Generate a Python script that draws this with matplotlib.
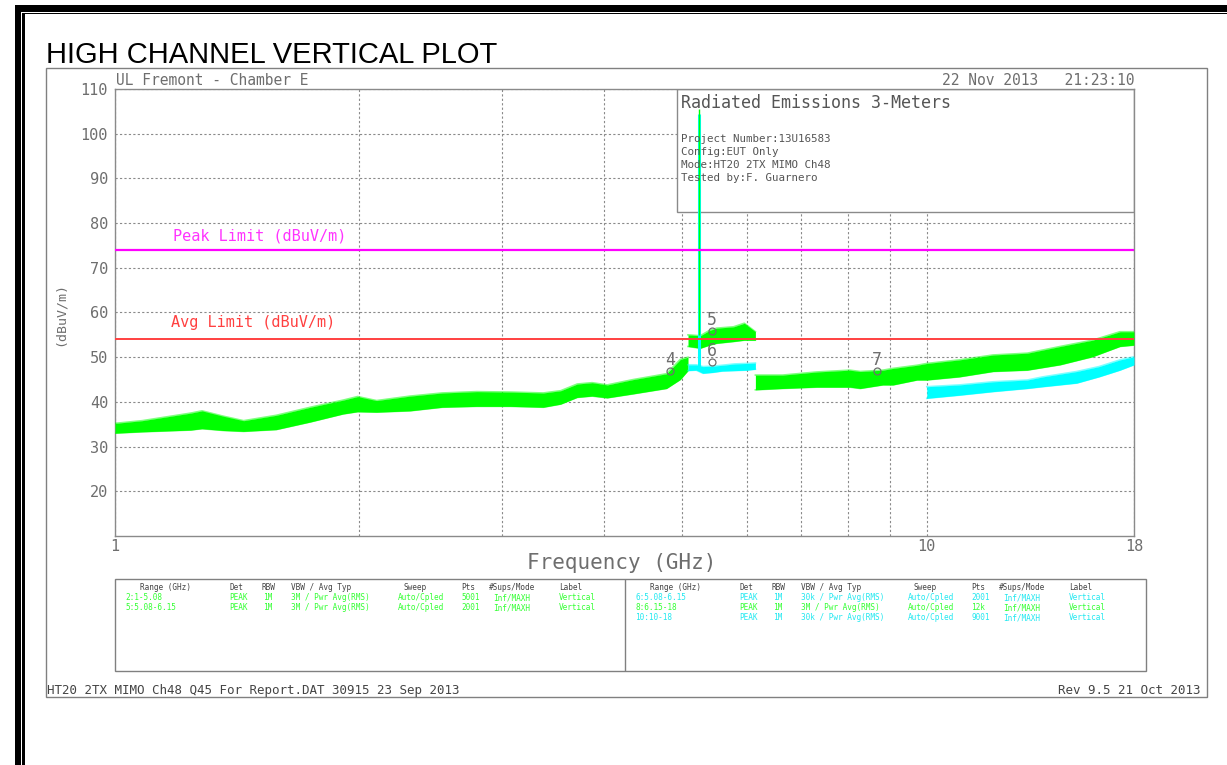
import matplotlib
matplotlib.use('Agg')
import matplotlib.pyplot as plt
from matplotlib.patches import Rectangle
from matplotlib.ticker import FixedLocator, NullFormatter

W, H = 1227, 765
MONO = 'DejaVu Sans Mono'
GRAY = '#6e6e6e'
GREEN = '#00ff00'
CYAN = '#00ffff'

# ---- traces: frequency (GHz), band low / high (dBuV/m) ----
# trace 2 : 1 - 5.08 GHz, green
g2_f = [1.00, 1.08, 1.24, 1.28, 1.36, 1.44, 1.58, 1.74, 1.91, 1.99, 2.10, 2.31,
        2.53, 2.79, 3.07, 3.37, 3.54, 3.71, 3.87, 4.04, 4.35, 4.78, 4.97, 5.08]
g2_lo = [33.0, 33.3, 33.7, 34.0, 33.6, 33.4, 33.8, 35.5, 37.3, 37.8, 37.7, 38.0,
         38.8, 39.0, 39.0, 38.8, 39.5, 41.0, 41.3, 40.9, 41.8, 43.0, 45.0, 47.0]
g2_hi = [35.2, 35.8, 37.5, 38.0, 36.8, 35.8, 37.0, 38.8, 40.4, 41.2, 40.3, 41.3,
         42.0, 42.3, 42.2, 42.0, 42.5, 44.0, 44.3, 43.8, 45.0, 46.3, 49.5, 50.0]

# trace 5 : 5.08 - 6.15 GHz, green
g5_f = [5.08, 5.26, 5.40, 5.51, 5.78, 5.96, 6.15]
g5_lo = [52.4, 52.0, 52.7, 53.1, 53.5, 53.8, 53.8]
g5_hi = [55.0, 54.8, 56.0, 56.5, 56.8, 57.6, 55.7]

# trace 6 : 5.08 - 6.15 GHz, cyan (average)
c6_f = [5.08, 5.20, 5.30, 5.45, 5.60, 5.80, 6.00, 6.15]
c6_lo = [47.0, 47.1, 46.4, 46.6, 46.9, 47.0, 47.1, 47.3]
c6_hi = [48.3, 48.3, 47.9, 48.0, 48.2, 48.5, 48.6, 48.7]

# trace 8 : 6.15 - 18 GHz, green
g8_f = [6.15, 6.64, 7.32, 8.04, 8.28, 8.83, 9.09, 9.73, 10.0, 10.97, 12.07,
        13.3, 14.6, 16.0, 17.3, 18.0]
g8_lo = [42.7, 43.0, 43.3, 43.3, 43.0, 43.8, 43.8, 44.9, 44.9, 45.6, 46.8,
         47.1, 48.3, 50.1, 52.4, 52.7]
g8_hi = [46.0, 46.0, 46.7, 47.1, 46.8, 47.1, 47.5, 48.2, 48.6, 49.4, 50.5,
         50.9, 52.4, 53.8, 55.7, 55.7]

# trace 10 : 10 - 18 GHz, cyan (average)
c10_f = [10.0, 10.97, 12.07, 13.3, 13.9, 15.3, 16.3, 17.3, 18.0]
c10_lo = [40.8, 41.5, 42.3, 43.0, 43.4, 44.2, 45.6, 47.1, 48.3]
c10_hi = [43.4, 43.8, 44.5, 44.9, 45.6, 46.8, 47.9, 49.4, 50.1]

# carrier spike
spike_f = [5.235, 5.24]
spike_base = [47.5, 55.0]
spike_top = [104.5, 105.5]
spike_col = [CYAN, GREEN]

# limits
peak_limit = 74
avg_limit = 54

# markers
mk_f = [4.83, 5.44, 5.44, 8.68]
mk_db = [46.9, 55.9, 48.9, 46.9]
mk_lbl = ['4', '5', '6', '7']

# setup table
tbl_head = ['Range (GHz)', 'Det', 'RBW', 'VBW / Avg Typ', 'Sweep', 'Pts',
            '#Sups/Mode', 'Label']
tbl_left = [
    ['2:1-5.08', 'PEAK', '1M', '3M / Pwr Avg(RMS)', 'Auto/Cpled', '5001', 'Inf/MAXH', 'Vertical'],
    ['5:5.08-6.15', 'PEAK', '1M', '3M / Pwr Avg(RMS)', 'Auto/Cpled', '2001', 'Inf/MAXH', 'Vertical'],
]
tbl_left_col = ['#33ff33', '#33ff33']
tbl_right = [
    ['6:5.08-6.15', 'PEAK', '1M', '30k / Pwr Avg(RMS)', 'Auto/Cpled', '2001', 'Inf/MAXH', 'Vertical'],
    ['8:6.15-18', 'PEAK', '1M', '3M / Pwr Avg(RMS)', 'Auto/Cpled', '12k', 'Inf/MAXH', 'Vertical'],
    ['10:10-18', 'PEAK', '1M', '30k / Pwr Avg(RMS)', 'Auto/Cpled', '9001', 'Inf/MAXH', 'Vertical'],
]
tbl_right_col = ['#22e8f0', '#33ff33', '#22e8f0']

info_lines = ['Project Number:13U16583', 'Config:EUT Only',
              'Mode:HT20 2TX MIMO Ch48', 'Tested by:F. Guarnero']


def fx(x):
    return x / W


def fy(y):
    return 1 - y / H


fig = plt.figure(figsize=(W / 100, H / 100), dpi=100)

# black page borders
for x0, y0, x1, y1 in [(15, 5, 21, 765), (22, 12.5, 24.5, 765),
                       (15, 5, 1227, 11.7), (22, 12.5, 1227, 14)]:
    fig.add_artist(Rectangle((fx(x0), fy(y1)), fx(x1 - x0), (y1 - y0) / H,
                             transform=fig.transFigure, fc='black', ec='none'))

# gray frame
fig.add_artist(Rectangle((fx(46), fy(697)), fx(1207 - 46), (697 - 68) / H,
                         transform=fig.transFigure, fc='none', ec='#808080', lw=1))

fig.text(fx(46), fy(63), 'HIGH CHANNEL VERTICAL PLOT', fontsize=21,
         family='Liberation Sans', va='baseline', ha='left')

ax = fig.add_axes([fx(115), fy(536), fx(1019), 447 / H])
ax.set_xscale('log')
ax.set_xlim(1, 18)
ax.set_ylim(10, 110)
ax.set_xticks([1, 10, 18])
ax.set_xticklabels(['1', '10', '18'])
ax.xaxis.set_minor_locator(FixedLocator([2, 3, 4, 5, 6, 7, 8, 9]))
ax.xaxis.set_minor_formatter(NullFormatter())
ax.set_yticks(range(20, 111, 10))
ax.tick_params(which='both', length=0, colors=GRAY, labelsize=11)
ax.tick_params(axis='y', pad=5)
ax.tick_params(axis='x', pad=2)
for lab in ax.get_xticklabels() + ax.get_yticklabels():
    lab.set_family(MONO)
ax.set_axisbelow(True)
ax.grid(True, which='both', color='#8a8a8a', lw=0.8, ls=(0, (2, 2)))
for sp in ax.spines.values():
    sp.set_color('#8a8a8a')
    sp.set_linewidth(1)

# info box
ax.add_patch(Rectangle(((677 - 115) / 1019, (536 - 212) / 447),
                       (1134 - 677) / 1019, (212 - 89) / 447,
                       transform=ax.transAxes, fc='white', ec='#8a8a8a',
                       lw=1, zorder=1.5))
fig.text(fx(681), fy(108), 'Radiated Emissions 3-Meters', family=MONO,
         fontsize=12, color='#555555', va='baseline')
for i, line in enumerate(info_lines):
    fig.text(fx(681), fy(142 + 13 * i), line, family=MONO, fontsize=7.8,
             color='#555555', va='baseline')

# limit lines
ax.axhline(peak_limit, color='#ff00ff', lw=1.6, zorder=4)
ax.axhline(avg_limit, color='#ff4040', lw=1.4, zorder=4)
ax.text(1.178, 76.1, 'Peak Limit (dBuV/m)', family=MONO, fontsize=11,
        color='#ff33ff', va='baseline')
ax.text(1.171, 56.8, 'Avg Limit (dBuV/m)', family=MONO, fontsize=11,
        color='#ff4040', va='baseline')

# traces
for f, lo, hi, col in [(g2_f, g2_lo, g2_hi, GREEN), (g5_f, g5_lo, g5_hi, GREEN),
                       (c6_f, c6_lo, c6_hi, CYAN), (g8_f, g8_lo, g8_hi, GREEN),
                       (c10_f, c10_lo, c10_hi, CYAN)]:
    ax.fill_between(f, lo, hi, color=col, lw=0, zorder=3)
    ax.plot(f, lo, color=col, lw=1.2, alpha=0.5, zorder=3)
    ax.plot(f, hi, color=col, lw=1.2, alpha=0.5, zorder=3)

ax.vlines(spike_f, spike_base, spike_top, colors=spike_col, lw=[2.2, 1.0], zorder=3.5)

# markers: small open circle at the point, number above it
ax.plot(mk_f, mk_db, ls='none', marker='o', ms=5, mfc='none', mec=GRAY,
        mew=0.9, zorder=5)
for f, db, lbl in zip(mk_f, mk_db, mk_lbl):
    ax.annotate(lbl, (f, db), xytext=(0, 4.5), textcoords='offset points',
                ha='center', va='baseline', family=MONO, fontsize=12,
                color=GRAY, zorder=5)

# headers around the plot
fig.text(fx(116), fy(85), 'UL Fremont - Chamber E', family=MONO, fontsize=10.5,
         color=GRAY, va='baseline')
fig.text(fx(1134), fy(85), '22 Nov 2013   21:23:10', family=MONO, fontsize=10.5,
         color=GRAY, va='baseline', ha='right')
fig.text(fx(60), fy(314), '(dBuV/m)', family=MONO, fontsize=9.5, color=GRAY,
         rotation=90, ha='center', va='center')
fig.text(fx(622), fy(563), 'Frequency (GHz)', family=MONO, fontsize=15,
         color=GRAY, ha='center', va='center')

# setup table
fig.add_artist(Rectangle((fx(115), fy(671)), fx(1146 - 115), (671 - 579) / H,
                         transform=fig.transFigure, fc='none', ec='#808080', lw=1))
fig.add_artist(Rectangle((fx(625), fy(671)), 0, (671 - 579) / H,
                         transform=fig.transFigure, fc='none', ec='#808080', lw=1))
head_off = [25, 114, 147, 176, 289, 346, 374, 444]
data_off = [10, 114, 148, 176, 283, 346, 378, 444]
for x0, rows, cols in [(115, tbl_left, tbl_left_col), (625, tbl_right, tbl_right_col)]:
    for h, off in zip(tbl_head, head_off):
        fig.text(fx(x0 + off), fy(587), h, family=MONO, fontsize=5.6,
                 color='#444444', va='center')
    for r, (row, col) in enumerate(zip(rows, cols)):
        for cell, off in zip(row, data_off):
            fig.text(fx(x0 + off), fy(598 + 10 * r), cell, family=MONO,
                     fontsize=5.6, color=col, va='center')

# footer
fig.text(fx(47), fy(694), 'HT20 2TX MIMO Ch48 Q45 For Report.DAT 30915 23 Sep 2013',
         family=MONO, fontsize=9, color='#444444', va='baseline')
fig.text(fx(1201), fy(694), 'Rev 9.5 21 Oct 2013', family=MONO, fontsize=9,
         color='#444444', va='baseline', ha='right')

fig.savefig('out.png', dpi=100)
